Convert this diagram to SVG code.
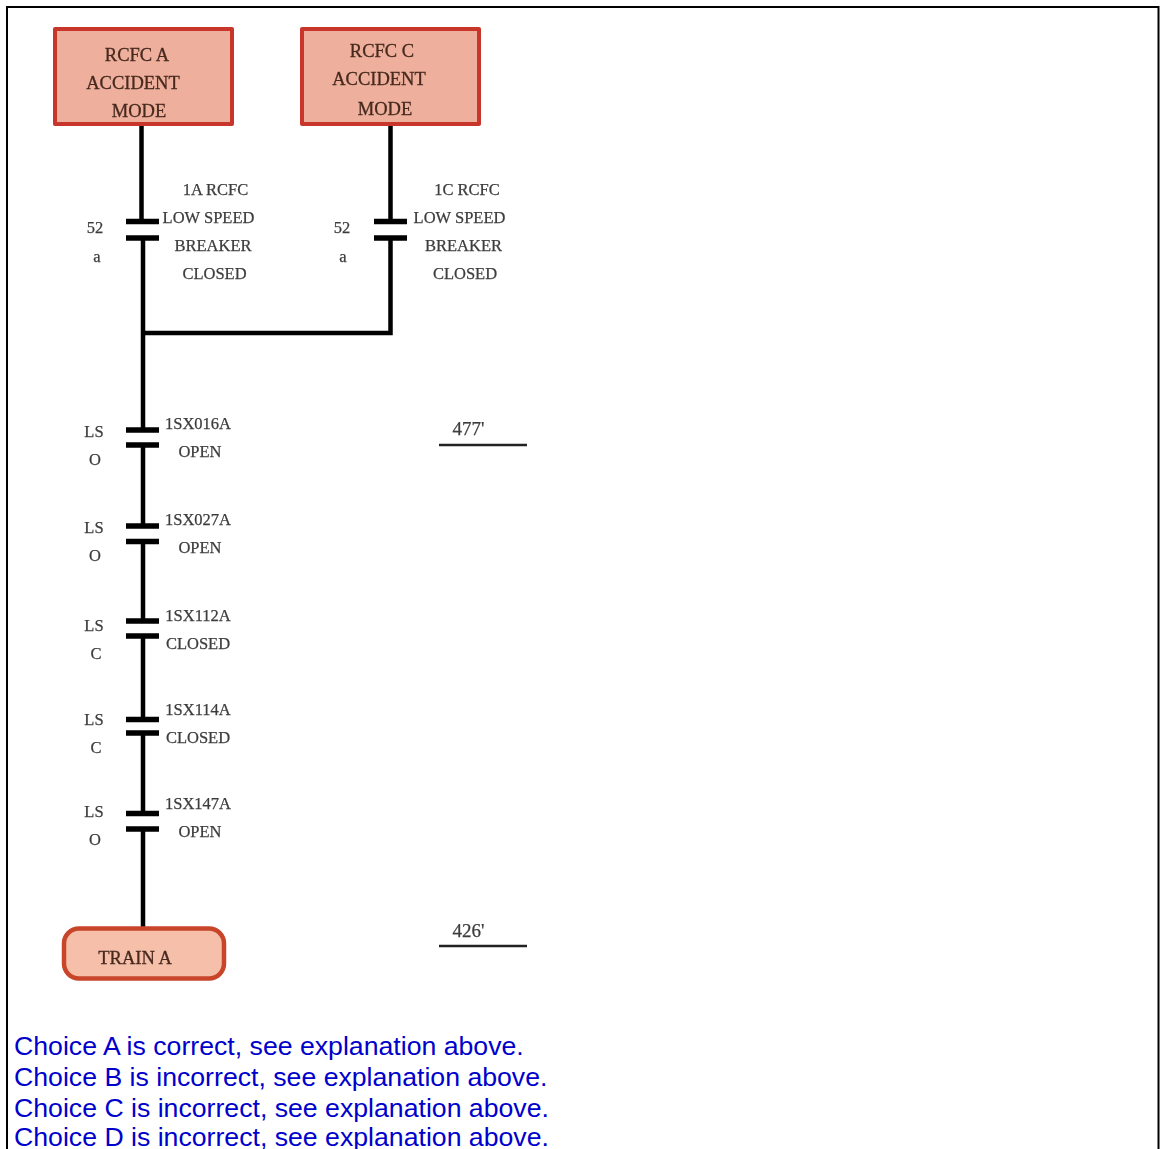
<svg xmlns="http://www.w3.org/2000/svg" width="1160" height="1149" viewBox="0 0 1160 1149">
<defs><filter id="soft" x="-5%" y="-5%" width="110%" height="110%"><feGaussianBlur stdDeviation="0.45"/></filter></defs>
<style>
.lab{font-family:"Liberation Serif","Times New Roman",serif;font-size:16.5px;fill:#3c3c3c;stroke:#3c3c3c;stroke-width:.25;text-anchor:middle}
.lvl{font-size:19px}
.nl{font-family:"Liberation Serif","Times New Roman",serif;font-size:18.5px;fill:#47291f;stroke:#47291f;stroke-width:.3;text-anchor:middle}
.box{fill:#eeb09c;stroke:#c8352a;stroke-width:4;stroke-linejoin:round}
.rbox{fill:#f6bfa9;stroke:#c8452c;stroke-width:4.500}
.w{fill:none;stroke:#000;stroke-width:4.500}
.c{fill:none;stroke:#000;stroke-width:5.500}
.lv{fill:none;stroke:#222;stroke-width:2.500}
.ans{font-family:"Liberation Sans",Arial,sans-serif;font-size:26.67px;fill:#0000cc}
</style>
<rect x="0" y="0" width="1160" height="1149" fill="#fff"/>
<path d="M7 1149V7H1158.500V1149" fill="none" stroke="#000" stroke-width="2"/>
<g filter="url(#soft)">
<g id="connectors">
<path class="w" d="M141.500 125V220M143 238V333M390.500 125V220M390.500 238V333H143V430M143 445V526M143 542V621M143 636V719M143 733V813M143 829V928"/>
<path class="c" d="M126 221.500H159M126 238H159M374 221.500H407M374 238H407M126 430H159M126 445H159M126 526H159M126 541.500H159M126 621H159M126 636H159M126 719.500H159M126 733H159M126 813.500H159M126 829H159"/>
</g>
<g id="rcfc-a"><rect class="box" x="55" y="29" width="177" height="95"/>
<text class="nl" x="137" y="61">RCFC A</text><text class="nl" x="133" y="89">ACCIDENT</text><text class="nl" x="139" y="117">MODE</text></g>
<g id="rcfc-c"><rect class="box" x="302" y="29" width="177" height="95"/>
<text class="nl" x="382" y="57">RCFC C</text><text class="nl" x="379" y="85">ACCIDENT</text><text class="nl" x="385" y="114.500">MODE</text></g>
<g id="train-a"><rect class="rbox" x="64" y="928.500" width="160" height="50" rx="15"/>
<text class="nl" x="135" y="964">TRAIN A</text></g>
<g id="breaker-1a"><text class="lab" x="215.500" y="195">1A RCFC</text><text class="lab" x="208.500" y="223">LOW SPEED</text><text class="lab" x="213" y="251">BREAKER</text><text class="lab" x="214.500" y="279">CLOSED</text><text class="lab" x="95" y="233">52</text><text class="lab" x="97" y="262">a</text></g>
<g id="breaker-1c"><text class="lab" x="467" y="195">1C RCFC</text><text class="lab" x="459.500" y="223">LOW SPEED</text><text class="lab" x="463.500" y="251">BREAKER</text><text class="lab" x="465" y="279">CLOSED</text><text class="lab" x="342" y="233">52</text><text class="lab" x="343" y="262">a</text></g>
<g id="ls-016"><text class="lab" x="198" y="429">1SX016A</text><text class="lab" x="200" y="457">OPEN</text><text class="lab" x="94" y="437">LS</text><text class="lab" x="95" y="465">O</text></g>
<g id="ls-027"><text class="lab" x="198" y="525">1SX027A</text><text class="lab" x="200" y="553">OPEN</text><text class="lab" x="94" y="533">LS</text><text class="lab" x="95" y="561">O</text></g>
<g id="ls-112"><text class="lab" x="198" y="621">1SX112A</text><text class="lab" x="198" y="649">CLOSED</text><text class="lab" x="94" y="631">LS</text><text class="lab" x="96" y="659">C</text></g>
<g id="ls-114"><text class="lab" x="198" y="715">1SX114A</text><text class="lab" x="198" y="743">CLOSED</text><text class="lab" x="94" y="725">LS</text><text class="lab" x="96" y="753">C</text></g>
<g id="ls-147"><text class="lab" x="198" y="809">1SX147A</text><text class="lab" x="200" y="837">OPEN</text><text class="lab" x="94" y="817">LS</text><text class="lab" x="95" y="845">O</text></g>
<g id="level-477"><text class="lab lvl" x="468.500" y="435">477'</text><path class="lv" d="M439 445H527"/></g>
<g id="level-426"><text class="lab lvl" x="468.500" y="937">426'</text><path class="lv" d="M439 946H527"/></g>
</g>
<text class="ans" x="14" y="1055">Choice A is correct, see explanation above.</text>
<text class="ans" x="14" y="1086">Choice B is incorrect, see explanation above.</text>
<text class="ans" x="14" y="1117">Choice C is incorrect, see explanation above.</text>
<text class="ans" x="14" y="1146">Choice D is incorrect, see explanation above.</text>
</svg>
